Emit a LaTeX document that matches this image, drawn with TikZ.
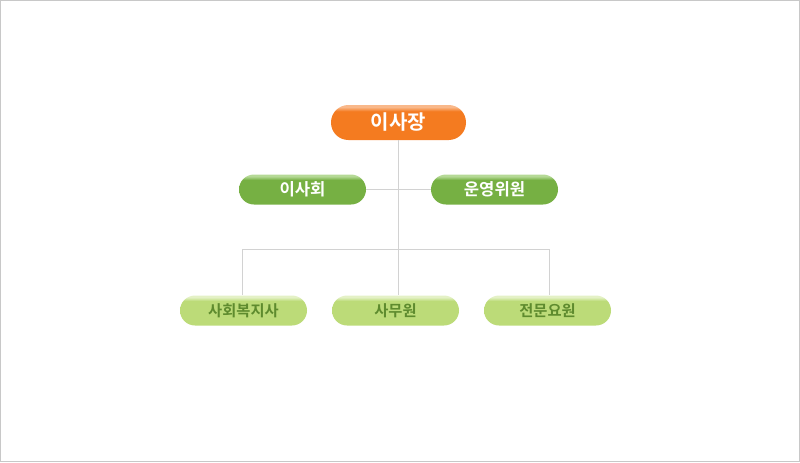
\documentclass[tikz,border=0pt]{standalone}
\usepackage{fontspec}
\newfontfamily\kr{Noto Sans CJK KR Bold}
\definecolor{orangec}{HTML}{F47B20}
\definecolor{orangel}{HTML}{F9B88A}
\definecolor{greenc}{HTML}{76B043}
\definecolor{greenl}{HTML}{B5D996}
\definecolor{lgreenc}{HTML}{BCDB78}
\definecolor{lgreenl}{HTML}{E4F1C6}
\definecolor{lgtext}{HTML}{5E8B2E}
\definecolor{linec}{HTML}{D2D2D2}
\definecolor{framec}{HTML}{C8C8C8}
\pgfdeclareverticalshading{glossO}{100bp}{color(0bp)=(orangec); color(66bp)=(orangec); color(72bp)=(orangel); color(100bp)=(orangel)}
\pgfdeclareverticalshading{glossG}{100bp}{color(0bp)=(greenc); color(66bp)=(greenc); color(72bp)=(greenl); color(100bp)=(greenl)}
\pgfdeclareverticalshading{glossL}{100bp}{color(0bp)=(lgreenc); color(66bp)=(lgreenc); color(72bp)=(lgreenl); color(100bp)=(lgreenl)}
\tikzset{
  topbox/.style={rounded corners=13pt, minimum width=101.25pt, minimum height=26.25pt, inner sep=0pt, shading=glossO, text=white, font=\kr\fontsize{15pt}{17pt}\selectfont},
  midbox/.style={rounded corners=11.25pt, minimum width=95.25pt, minimum height=22.5pt, inner sep=0pt, shading=glossG, text=white, font=\kr\fontsize{12.5pt}{14pt}\selectfont},
  lowbox/.style={rounded corners=11.25pt, minimum width=95.25pt, minimum height=22.5pt, inner sep=0pt, shading=glossL, text=lgtext, font=\kr\fontsize{11.5pt}{13pt}\selectfont},
  conn/.style={draw=linec, line width=0.75pt}
}
\begin{document}
\begin{tikzpicture}[x=0.75pt,y=-0.75pt]
\useasboundingbox (0,0) rectangle (800,462);
\draw[framec, line width=0.75pt] (0.5,0.5) rectangle (799.5,461.5);
\node[topbox] (top) at (398.5,122.5) {이사장};
\node[midbox] (bod) at (302.5,189.5) {이사회};
\node[midbox] (ops) at (494.5,189.5) {운영위원};
\node[lowbox] (sw) at (243.5,310.5) {사회복지사};
\node[lowbox] (off) at (395.5,310.5) {사무원};
\node[lowbox] (exp) at (547.5,310.5) {전문요원};
\coordinate (hub) at (398,189.5);
\coordinate (busL) at (242.5,249.5);
\coordinate (busR) at (549.5,249.5);
\coordinate (dropL) at (242.5,295);
\coordinate (dropM) at (398,295);
\coordinate (dropR) at (549.5,295);
\draw[conn] (top.south -| hub) -- (dropM);
\draw[conn] (bod.east) -- (ops.west);
\draw[conn] (dropL) -- (busL) -- (busR) -- (dropR);
\end{tikzpicture}
\end{document}
